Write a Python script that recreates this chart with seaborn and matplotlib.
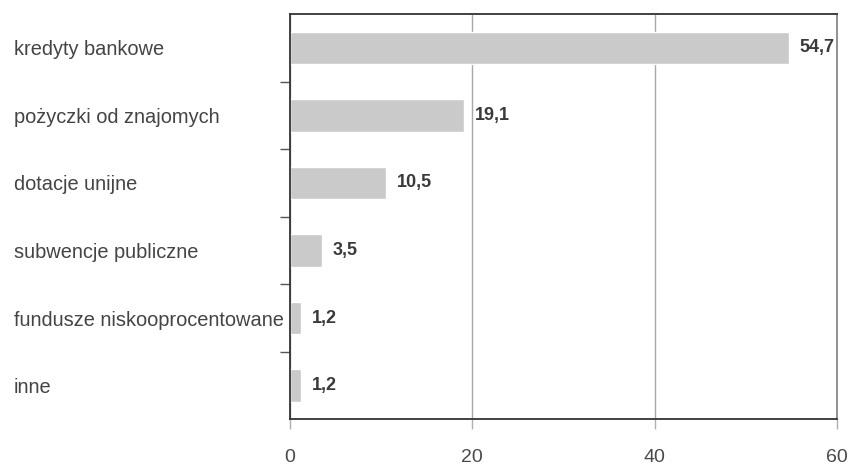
import numpy as np
import pandas as pd
import matplotlib
matplotlib.use("Agg")
import matplotlib.pyplot as plt
import seaborn as sns

categories = [
    "kredyty bankowe",
    "pożyczki od znajomych",
    "dotacje unijne",
    "subwencje publiczne",
    "fundusze niskooprocentowane",
    "inne",
]
values = [54.7, 19.1, 10.5, 3.5, 1.2, 1.2]
value_labels = ["54,7", "19,1", "10,5", "3,5", "1,2", "1,2"]
x_ticks = [0, 20, 40, 60]

sns.set_theme(style="white")
plt.rcParams["font.family"] = ["Liberation Sans", "DejaVu Sans"]

df = pd.DataFrame({"kategoria": categories, "udzial": values})

fig, ax = plt.subplots(figsize=(8.48, 4.66), dpi=100)
fig.subplots_adjust(left=0.342, right=0.987, top=0.970, bottom=0.100)

ax.set_axisbelow(True)
ax.xaxis.grid(True, color="#a8a8a8", linewidth=1.0)

sns.barplot(data=df, x="udzial", y="kategoria", orient="h",
            color="#cacaca", saturation=1, width=0.48, ax=ax)

ax.set_xlim(0, 60)
ax.set_ylim(5.5, -0.5)
ax.set_xlabel("")
ax.set_ylabel("")

ax.set_xticks(x_ticks)
ax.set_xticklabels([str(t) for t in x_ticks])
ax.tick_params(axis="x", bottom=True, length=7, width=1, color="#b0b0b0",
               pad=14, labelsize=14, labelcolor="#4a4a4a")

# category names are left-aligned at the figure's left margin
ax.set_yticks(range(len(categories)))
ax.set_yticklabels(categories)
ax.tick_params(axis="y", which="major", left=False, pad=193, labelsize=14.4,
               labelcolor="#444444")
for lab in ax.get_yticklabels():
    lab.set_horizontalalignment("left")

# separators between categories as outward minor ticks
ax.set_yticks(np.arange(-0.5, len(categories), 1.0)[1:-1], minor=True)
ax.tick_params(axis="y", which="minor", left=True, length=7, width=1,
               color="#555555")

for name in ["left", "bottom", "top"]:
    ax.spines[name].set_visible(True)
    ax.spines[name].set_color("#333333")
    ax.spines[name].set_linewidth(1.3)
ax.spines["right"].set_visible(True)
ax.spines["right"].set_color("#888888")
ax.spines["right"].set_linewidth(1.3)

for i, (v, lab) in enumerate(zip(values, value_labels)):
    ax.annotate(lab, xy=(v, i), xytext=(8, 0), textcoords="offset points",
                ha="left", va="center", fontsize=13, fontweight="bold",
                color="#3a3a3a")

fig.savefig("out.png", dpi=100)
